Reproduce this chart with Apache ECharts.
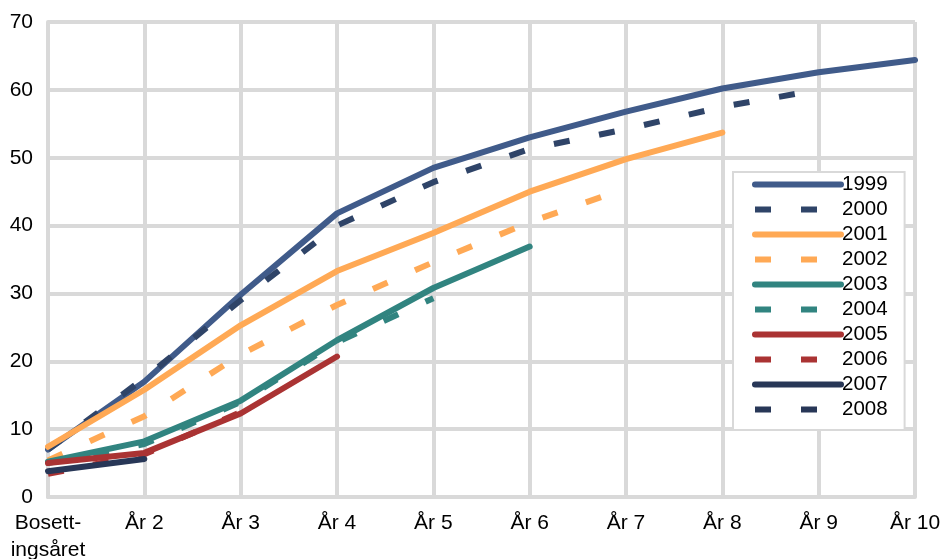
<!DOCTYPE html>
<html>
<head>
<meta charset="utf-8">
<script src="https://cdn.jsdelivr.net/npm/echarts@6/dist/echarts.min.js"></script>
<style>html,body{margin:0;padding:0;background:#fff}#c{width:944px;height:559px}</style>
</head>
<body>
<div id="c"></div>
<script>
var categories = ["Bosett-\ningsåret", "År 2", "År 3", "År 4", "År 5", "År 6", "År 7", "År 8", "År 9", "År 10"];
var seriesNames = ["1999", "2000", "2001", "2002", "2003", "2004", "2005", "2006", "2007", "2008"];
var y1999 = [7.0, 17.0, 29.8, 41.8, 48.5, 53.0, 56.8, 60.2, 62.6, 64.4];
var y2000 = [7.0, 17.5, 29.0, 40.0, 46.4, 51.3, 54.2, 57.5, 60.0];
var y2001 = [7.4, 15.8, 25.3, 33.3, 38.9, 45.0, 49.8, 53.7];
var y2002 = [5.4, 11.9, 21.0, 28.3, 34.6, 40.5, 45.5];
var y2003 = [5.2, 8.2, 14.2, 23.1, 30.8, 36.9];
var y2004 = [5.0, 7.8, 14.0, 22.8, 29.3];
var y2005 = [5.0, 6.5, 12.3, 20.7];
var y2006 = [3.4, 6.3, 12.5];
var y2007 = [3.8, 5.6];
var y2008 = [4.2];
var yTicks = [0, 10, 20, 30, 40, 50, 60, 70];

var allData = [y1999, y2000, y2001, y2002, y2003, y2004, y2005, y2006, y2007, y2008];
var colors = ["#405b8a", "#2f4468", "#ffa955", "#ffa955", "#318480", "#318480", "#aa3333", "#aa3333", "#283757", "#283757"];
var dashed = [false, true, false, true, false, true, false, true, false, true];

var FONT = "Liberation Sans, Arial, sans-serif";
var chart = echarts.init(document.getElementById('c'), null, {renderer: 'canvas'});
var series = seriesNames.map(function (n, i) {
  return {
    name: n,
    type: 'line',
    data: allData[i],
    symbol: 'none',
    showSymbol: false,
    smooth: false,
    animation: false,
    lineStyle: {
      color: colors[i],
      width: 6,
      type: dashed[i] ? [16, 30] : 'solid',
      cap: dashed[i] ? 'butt' : 'round',
      join: 'round'
    },
    itemStyle: {color: colors[i]}
  };
});

chart.setOption({
  animation: false,
  backgroundColor: '#fff',
  textStyle: {fontFamily: FONT},
  grid: {left: 48, right: 29, top: 22, bottom: 62, containLabel: false, outerBoundsMode: 'none'},
  legend: {
    orient: 'vertical',
    left: 733,
    top: 172,
    data: seriesNames,
    itemWidth: 86,
    itemHeight: 19,
    itemGap: 4,
    padding: [2, 17, 10, 19],
    backgroundColor: '#fff',
    borderColor: '#d9d9d9',
    borderWidth: 2,
    borderRadius: 0,
    itemStyle: {opacity: 0},
    lineStyle: {width: 6},
    textStyle: {fontSize: 20.5, lineHeight: 21, color: '#000', fontFamily: FONT, padding: [0, 0, 0, -4]}
  },
  xAxis: {
    type: 'category',
    data: categories,
    boundaryGap: false,
    axisLine: {show: true, lineStyle: {color: '#d9d9d9', width: 4}},
    axisTick: {show: false},
    splitLine: {show: true, lineStyle: {color: '#d9d9d9', width: 4}},
    axisLabel: {fontSize: 21, color: '#000', margin: 13, lineHeight: 27, fontFamily: FONT, interval: 0}
  },
  yAxis: {
    type: 'value',
    min: yTicks[0],
    max: yTicks[yTicks.length - 1],
    interval: 10,
    axisLine: {show: true, lineStyle: {color: '#d9d9d9', width: 4}},
    axisTick: {show: false},
    splitLine: {show: true, lineStyle: {color: '#d9d9d9', width: 4}},
    axisLabel: {fontSize: 21, color: '#000', margin: 15, fontFamily: FONT}
  },
  series: series
});
</script>
</body>
</html>
